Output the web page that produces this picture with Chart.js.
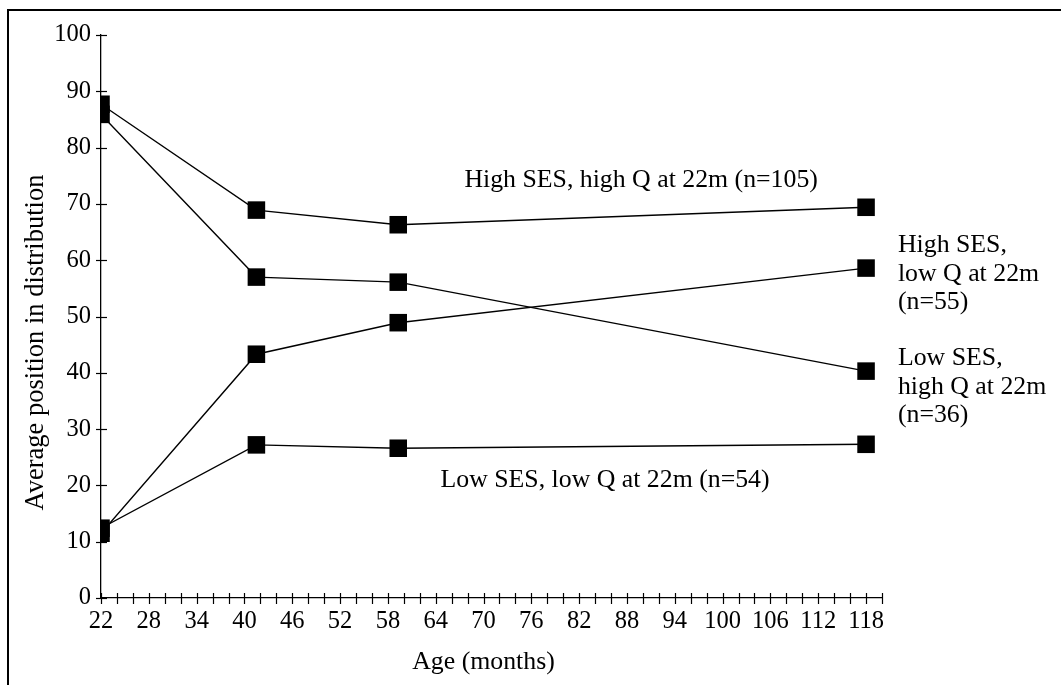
<!DOCTYPE html>
<html>
<head>
<meta charset="utf-8">
<script src="https://cdn.jsdelivr.net/npm/chart.js@4/dist/chart.umd.min.js"></script>
<style>
  html, body { margin: 0; padding: 0; background: #fff; overflow: hidden; }
  #frame { position: absolute; left: 7px; top: 9px; width: 1200px; height: 800px;
           border-left: 2px solid #000; border-top: 2px solid #000; }
  #wrap { position: absolute; left: 0; top: 0; width: 1061px; height: 685px; }
</style>
</head>
<body>
<div id="frame"></div>
<div id="wrap"><canvas id="c" width="1061" height="685"></canvas></div>
<script>
// ---- data ----
const ages = [22, 41.5, 59.3, 118];
const highSesHighQ = [87.7, 68.9, 66.3, 69.4];
const highSesLowQ  = [11.5, 43.3, 48.9, 58.6];
const lowSesHighQ  = [85.9, 57.0, 56.1, 40.3];
const lowSesLowQ   = [12.4, 27.2, 26.6, 27.3];
const seriesNames = [
  'High SES, high Q at 22m (n=105)',
  'High SES, low Q at 22m (n=55)',
  'Low SES, high Q at 22m (n=36)',
  'Low SES, low Q at 22m (n=54)'
];
const xLabelEvery = 6;
const xTitle = 'Age (months)';
const yTitle = 'Average position in distribution';

// ---- presentation ----
const FONT = '"Liberation Serif", "Times New Roman", serif';
const annotations = [
  { lines: ['High SES, high Q at 22m (n=105)'], x: 67.6, y: 73.0 },
  { lines: ['High SES,', 'low Q at 22m', '(n=55)'], x: 122.0, y: 61.4 },
  { lines: ['Low SES,', 'high Q at 22m', '(n=36)'], x: 122.0, y: 41.3 },
  { lines: ['Low SES, low Q at 22m (n=54)'], x: 64.6, y: 19.7 }
];

function pts(vals) { return ages.map((a, i) => ({ x: a, y: vals[i] })); }
function ds(label, vals) {
  return {
    label, data: pts(vals),
    borderColor: '#000', backgroundColor: '#000', borderWidth: 1.4,
    pointStyle: 'rect', pointRadius: 12.4, pointHoverRadius: 12.4,
    pointBorderWidth: 0, tension: 0, fill: false
  };
}

const crossTicks = {
  id: 'crossTicks',
  afterDraw(chart) {
    const ctx = chart.ctx;
    const xs = chart.scales.x, ys = chart.scales.y;
    ctx.save();
    ctx.strokeStyle = '#000';
    ctx.lineWidth = 1.2;
    const axisY = ys.getPixelForValue(0);
    xs.ticks.forEach((t, i) => {
      const px = Math.round(xs.getPixelForTick(i)) + 0.5;
      ctx.beginPath(); ctx.moveTo(px, axisY - 5); ctx.lineTo(px, axisY + 6); ctx.stroke();
    });
    const axisX = xs.getPixelForValue(22);
    ys.ticks.forEach((t, i) => {
      const py = Math.round(ys.getPixelForTick(i)) + 0.5;
      ctx.beginPath(); ctx.moveTo(axisX - 5, py); ctx.lineTo(axisX + 6, py); ctx.stroke();
    });
    // annotations
    ctx.fillStyle = '#000';
    ctx.font = '25.8px ' + FONT;
    ctx.textAlign = 'left';
    ctx.textBaseline = 'alphabetic';
    annotations.forEach(a => {
      const px = xs.getPixelForValue(a.x);
      const py = ys.getPixelForValue(a.y);
      a.lines.forEach((l, k) => ctx.fillText(l, px, py + k * 28.5));
    });
    // axis titles
    ctx.textAlign = 'center';
    ctx.fillText(xTitle, (xs.left + xs.right) / 2 - 8, 669);
    ctx.save();
    ctx.translate(43, 342.5);
    ctx.rotate(-Math.PI / 2);
    ctx.font = '26.5px ' + FONT;
    ctx.fillText(yTitle, 0, 0);
    ctx.restore();
    ctx.restore();
  }
};

new Chart(document.getElementById('c'), {
  type: 'line',
  data: { datasets: [
    ds(seriesNames[0], highSesHighQ),
    ds(seriesNames[1], highSesLowQ),
    ds(seriesNames[2], lowSesHighQ),
    ds(seriesNames[3], lowSesLowQ)
  ]},
  options: {
    responsive: false,
    animation: false,
    events: [],
    layout: { padding: { left: 0, top: 35, right: 179, bottom: 0 } },
    plugins: { legend: { display: false }, tooltip: { enabled: false } },
    scales: {
      x: {
        type: 'linear', min: 22, max: 120,
        grid: { display: false },
        border: { display: true, color: '#000', width: 1.3 },
        ticks: {
          stepSize: 2, autoSkip: false, maxRotation: 0, padding: 1,
          color: '#000', font: { family: FONT, size: 24.5 },
          callback: v => ((v - 22) % xLabelEvery === 0 && v <= 118) ? String(v) : ''
        },
        afterFit: s => { s.height = 87; }
      },
      y: {
        min: 0, max: 100,
        grid: { display: false },
        border: { display: true, color: '#000', width: 1.3 },
        ticks: { stepSize: 10, padding: 2, color: '#000', font: { family: FONT, size: 24.5 } },
        afterFit: s => { s.width = 101; }
      }
    }
  },
  plugins: [crossTicks]
});
</script>
</body>
</html>
